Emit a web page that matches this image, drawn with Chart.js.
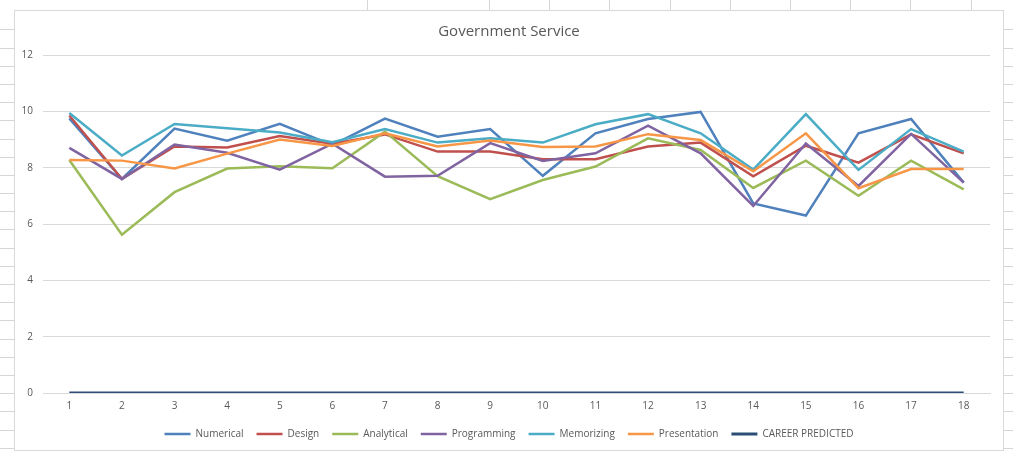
<!DOCTYPE html>
<html>
<head>
<meta charset="utf-8">
<script src="https://cdn.jsdelivr.net/npm/chart.js@4/dist/chart.umd.min.js"></script>
<style>
  html, body { margin: 0; padding: 0; background: #fff; }
  canvas { display: block; }
</style>
</head>
<body>
<canvas id="chart" width="1013" height="452"></canvas>
<script>
const categories = ["1", "2", "3", "4", "5", "6", "7", "8", "9", "10", "11", "12", "13", "14", "15", "16", "17", "18"];

const numerical = [9.75, 7.6, 9.39, 8.96, 9.56, 8.8, 9.74, 9.1, 9.37, 7.71, 9.22, 9.73, 9.98, 6.73, 6.3, 9.22, 9.73, 7.47];
const design = [9.85, 7.6, 8.75, 8.72, 9.12, 8.85, 9.18, 8.57, 8.57, 8.3, 8.3, 8.75, 8.89, 7.69, 8.78, 8.18, 9.18, 8.51];
const analytical = [8.27, 5.62, 7.13, 7.97, 8.05, 7.98, 9.28, 7.7, 6.88, 7.56, 8.04, 9.04, 8.63, 7.28, 8.25, 7.0, 8.25, 7.23];
const programming = [8.7, 7.6, 8.82, 8.53, 7.93, 8.85, 7.68, 7.71, 8.87, 8.24, 8.51, 9.49, 8.51, 6.64, 8.86, 7.35, 9.2, 7.47];
const memorizing = [9.94, 8.43, 9.55, 9.4, 9.25, 8.9, 9.37, 8.89, 9.04, 8.89, 9.54, 9.9, 9.22, 7.93, 9.9, 7.92, 9.37, 8.57];
const presentation = [8.27, 8.25, 7.97, 8.5, 9.0, 8.77, 9.22, 8.75, 8.96, 8.73, 8.75, 9.19, 8.98, 7.87, 9.22, 7.27, 7.95, 7.95];
const careerPredicted = [0, 0, 0, 0, 0, 0, 0, 0, 0, 0, 0, 0, 0, 0, 0, 0, 0, 0];

const series = [
  { label: "Numerical", data: numerical, color: "#4f81bd", width: 2.5 },
  { label: "Design", data: design, color: "#c0504d", width: 2.5 },
  { label: "Analytical", data: analytical, color: "#9bbb59", width: 2.5 },
  { label: "Programming", data: programming, color: "#8064a2", width: 2.5 },
  { label: "Memorizing", data: memorizing, color: "#4bacc6", width: 2.5 },
  { label: "Presentation", data: presentation, color: "#f79646", width: 2.5 },
  { label: "CAREER PREDICTED", data: careerPredicted, color: "#2c4d75", width: 3 },
];

// the embedded chart's frame and the spreadsheet cells peeking out around it
const FRAME = { left: 14, top: 10, right: 1004, bottom: 451 };
const SHEET_COLUMNS = [367, 489, 549, 609, 670, 730, 790, 850, 910, 971];
const SHEET_ROW_START = 29.3;
const SHEET_ROW_HEIGHT = 18.2;

const sheetBackdrop = {
  id: "sheetBackdrop",
  beforeDraw(chart) {
    const { ctx, width, height } = chart;
    ctx.save();
    ctx.fillStyle = "#fff";
    ctx.fillRect(0, 0, width, height);
    ctx.strokeStyle = "#d6d6d6";
    ctx.lineWidth = 1;
    ctx.beginPath();
    for (let y = SHEET_ROW_START; y < height; y += SHEET_ROW_HEIGHT) {
      const py = Math.round(y) + 0.5;
      ctx.moveTo(0, py);
      ctx.lineTo(FRAME.left, py);
      ctx.moveTo(FRAME.right, py);
      ctx.lineTo(width, py);
    }
    for (const x of SHEET_COLUMNS) {
      ctx.moveTo(x + 0.5, 0);
      ctx.lineTo(x + 0.5, FRAME.top);
    }
    ctx.stroke();
    ctx.strokeStyle = "#d9d9d9";
    ctx.strokeRect(FRAME.left + 0.5, FRAME.top + 0.5, FRAME.right - FRAME.left - 1, FRAME.bottom - FRAME.top - 1);
    ctx.restore();
  },
};

// Excel centres title and legend on the whole frame, not on the plot width
const centreOnFrame = {
  id: "centreOnFrame",
  afterLayout(chart) {
    for (const box of [chart.titleBlock, chart.legend]) {
      box.left = FRAME.left;
      box.right = FRAME.right;
    }
  },
};

Chart.defaults.font.family = "'Open Sans', sans-serif";
Chart.defaults.color = "#595959";

new Chart(document.getElementById("chart"), {
  type: "line",
  data: {
    labels: categories,
    datasets: series.map((s, i) => ({
      label: s.label,
      data: s.data,
      borderColor: s.color,
      backgroundColor: s.color,
      borderWidth: s.width,
      pointRadius: 0,
      tension: 0,
      // Excel paints later series on top
      order: -i,
    })),
  },
  options: {
    responsive: false,
    animation: false,
    layout: { padding: { left: 20, right: 23, top: 0, bottom: 3 } },
    scales: {
      x: {
        offset: true,
        grid: { display: false, drawTicks: false },
        border: { display: true, color: "#d9d9d9", width: 1 },
        ticks: { font: { size: 10, lineHeight: 0.2 }, padding: 12, maxRotation: 0 },
        afterFit(scale) {
          scale.height = 23;
        },
      },
      y: {
        min: 0,
        max: 12,
        grid: { color: "#d9d9d9", drawTicks: false },
        border: { display: false },
        ticks: { stepSize: 2, font: { size: 10 }, padding: 10 },
        afterFit(scale) {
          scale.width = 23;
        },
      },
    },
    plugins: {
      title: {
        display: true,
        text: "Government Service",
        color: "#595959",
        font: { size: 15, weight: "normal" },
        padding: { top: 23, bottom: 14 },
      },
      legend: {
        position: "bottom",
        reverse: true,
        labels: {
          usePointStyle: true,
          pointStyle: "line",
          pointStyleWidth: 26,
          padding: 13,
          font: { size: 10 },
          color: "#595959",
        },
      },
      tooltip: { enabled: false },
    },
  },
  plugins: [sheetBackdrop, centreOnFrame],
});
</script>
</body>
</html>
